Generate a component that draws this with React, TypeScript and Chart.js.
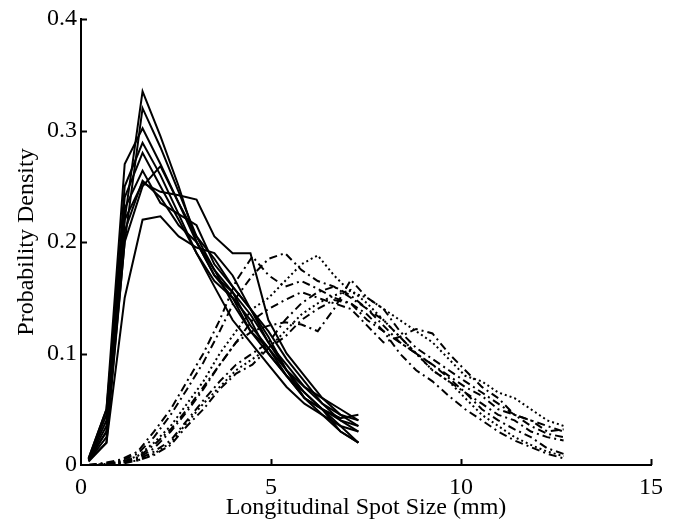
import React, { useEffect, useRef } from "react";
import { Chart, registerables } from "chart.js";

Chart.register(...registerables);

// x positions (mm) of the narrow distributions (solid lines)
const xSolid = [0.2, 0.67, 1.15, 1.62, 2.09, 2.57, 3.04, 3.51, 3.99, 4.46, 4.93, 5.41, 5.88, 6.35, 6.83, 7.3];
const solidA = [0.005, 0.03, 0.22, 0.335, 0.295, 0.25, 0.2, 0.17, 0.15, 0.13, 0.1, 0.08, 0.065, 0.05, 0.035, 0.02];
const solidB = [0.004, 0.02, 0.2, 0.32, 0.285, 0.245, 0.205, 0.175, 0.155, 0.125, 0.105, 0.085, 0.07, 0.055, 0.045, 0.035];
const solidC = [0.006, 0.05, 0.27, 0.302, 0.27, 0.235, 0.2, 0.17, 0.155, 0.135, 0.11, 0.09, 0.07, 0.06, 0.05, 0.04];
const solidD = [0.005, 0.04, 0.25, 0.289, 0.26, 0.225, 0.19, 0.165, 0.15, 0.12, 0.1, 0.08, 0.06, 0.05, 0.03, 0.02];
const solidE = [0.004, 0.025, 0.2, 0.25, 0.268, 0.235, 0.205, 0.185, 0.16, 0.14, 0.12, 0.095, 0.075, 0.055, 0.04, 0.03];
const solidF = [0.005, 0.035, 0.22, 0.253, 0.245, 0.242, 0.238, 0.205, 0.19, 0.19, 0.13, 0.1, 0.08, 0.06, 0.045, 0.04];
const solidG = [0.003, 0.02, 0.15, 0.22, 0.223, 0.205, 0.195, 0.19, 0.17, 0.14, 0.11, 0.085, 0.06, 0.045, 0.03, 0.02];
const solidH = [0.006, 0.05, 0.23, 0.264, 0.235, 0.225, 0.215, 0.18, 0.16, 0.14, 0.115, 0.085, 0.065, 0.05, 0.04, 0.035];
const solidI = [0.005, 0.045, 0.24, 0.28, 0.25, 0.22, 0.19, 0.16, 0.13, 0.11, 0.09, 0.07, 0.055, 0.045, 0.035, 0.03];
const solidJ = [0.004, 0.03, 0.21, 0.255, 0.24, 0.215, 0.2, 0.175, 0.145, 0.12, 0.105, 0.08, 0.06, 0.05, 0.042, 0.045];

// x positions (mm) of the wide distributions (broken lines)
const xDash = [0.2, 0.63, 1.06, 1.49, 1.92, 2.36, 2.79, 3.22, 3.65, 4.08, 4.51, 4.94, 5.37, 5.8, 6.23, 6.66, 7.1, 7.53, 7.96, 8.39, 8.82, 9.25, 9.68, 10.11, 10.55, 10.98, 11.41, 11.84, 12.27, 12.7];
const dash1 = [0.0, 0.001, 0.004, 0.01, 0.025, 0.045, 0.068, 0.092, 0.12, 0.15, 0.17, 0.185, 0.19, 0.175, 0.165, 0.16, 0.15, 0.14, 0.13, 0.115, 0.1, 0.09, 0.08, 0.07, 0.062, 0.05, 0.045, 0.04, 0.035, 0.03];
const dash2 = [0.0, 0.002, 0.005, 0.012, 0.03, 0.05, 0.075, 0.1, 0.13, 0.165, 0.187, 0.17, 0.16, 0.165, 0.158, 0.15, 0.145, 0.13, 0.12, 0.11, 0.1, 0.085, 0.075, 0.065, 0.055, 0.045, 0.04, 0.03, 0.025, 0.022];
const dash3 = [0.0, 0.001, 0.003, 0.008, 0.02, 0.035, 0.055, 0.075, 0.1, 0.12, 0.14, 0.15, 0.165, 0.18, 0.188, 0.17, 0.155, 0.15, 0.14, 0.13, 0.12, 0.11, 0.095, 0.08, 0.075, 0.065, 0.06, 0.05, 0.04, 0.035];
const dash4 = [0.0, 0.001, 0.002, 0.006, 0.015, 0.03, 0.048, 0.068, 0.09, 0.11, 0.12, 0.125, 0.128, 0.126, 0.12, 0.14, 0.166, 0.15, 0.14, 0.12, 0.105, 0.095, 0.085, 0.075, 0.065, 0.055, 0.045, 0.035, 0.028, 0.025];
const dash5 = [0.0, 0.0, 0.002, 0.005, 0.012, 0.022, 0.04, 0.058, 0.075, 0.09, 0.1, 0.11, 0.13, 0.145, 0.155, 0.16, 0.152, 0.14, 0.125, 0.11, 0.1, 0.09, 0.078, 0.065, 0.05, 0.04, 0.032, 0.025, 0.015, 0.01];
const dash6 = [0.0, 0.0, 0.002, 0.004, 0.01, 0.02, 0.038, 0.055, 0.07, 0.085, 0.095, 0.105, 0.12, 0.135, 0.145, 0.152, 0.157, 0.145, 0.13, 0.115, 0.1, 0.085, 0.075, 0.06, 0.045, 0.035, 0.025, 0.018, 0.012, 0.008];
const dash7 = [0.0, 0.001, 0.003, 0.007, 0.018, 0.032, 0.05, 0.07, 0.09, 0.11, 0.13, 0.14, 0.148, 0.155, 0.15, 0.145, 0.14, 0.125, 0.11, 0.115, 0.122, 0.118, 0.1, 0.085, 0.07, 0.06, 0.045, 0.04, 0.03, 0.032];
const dash8 = [0.0, 0.0, 0.001, 0.004, 0.009, 0.018, 0.035, 0.05, 0.068, 0.082, 0.09, 0.105, 0.115, 0.13, 0.14, 0.148, 0.145, 0.135, 0.12, 0.1, 0.085, 0.075, 0.062, 0.05, 0.04, 0.03, 0.022, 0.016, 0.01, 0.006];

const xTicks = [0, 5, 10, 15];
const yTicks = [0, 0.1, 0.2, 0.3, 0.4];
const xTitle = "Longitudinal Spot Size (mm)";
const yTitle = "Probability Density";

const solidSeries = [solidA, solidB, solidC, solidD, solidE, solidF, solidG, solidH, solidI, solidJ];
const dashSeries = [dash1, dash2, dash3, dash4, dash5, dash6, dash7, dash8];
const dashPatterns = [
  [8, 4, 2, 4],
  [8, 4, 2, 4],
  [2, 3],
  [8, 4, 2, 4],
  [8, 4, 2, 4],
  [2, 3],
  [8, 4, 2, 4],
  [8, 4, 2, 4],
];

const FONT = "'Liberation Serif', 'Times New Roman', Times, serif";

const inwardTicks = {
  id: "inwardTicks",
  afterDraw(chart: any) {
    const ctx = chart.ctx;
    const xs = chart.scales.x;
    const ys = chart.scales.y;
    const area = chart.chartArea;
    ctx.save();
    ctx.strokeStyle = "#000";
    ctx.lineWidth = 2;
    ctx.beginPath();
    xTicks.forEach((v) => {
      if (v === 0) return;
      const px = Math.round(xs.getPixelForValue(v)) + 0.5;
      ctx.moveTo(px, area.bottom);
      ctx.lineTo(px, area.bottom - 6);
    });
    yTicks.forEach((v) => {
      if (v === 0) return;
      const py = Math.round(ys.getPixelForValue(v)) + 0.5;
      ctx.moveTo(area.left, py);
      ctx.lineTo(area.left + 6, py);
    });
    ctx.stroke();
    ctx.restore();
  },
};

export default function App() {
  const ref = useRef<HTMLCanvasElement | null>(null);

  useEffect(() => {
    if (!ref.current) return;
    const datasets: any[] = [];
    dashSeries.forEach((s, i) => {
      datasets.push({
        data: s.map((y, k) => ({ x: xDash[k], y })),
        borderColor: "#000",
        borderWidth: 2,
        borderDash: dashPatterns[i],
        pointRadius: 0,
        tension: 0,
        fill: false,
      });
    });
    solidSeries.forEach((s) => {
      datasets.push({
        data: s.map((y, k) => ({ x: xSolid[k], y })),
        borderColor: "#000",
        borderWidth: 2,
        pointRadius: 0,
        tension: 0,
        fill: false,
      });
    });

    const chart = new Chart(ref.current, {
      type: "line",
      data: { datasets },
      plugins: [inwardTicks],
      options: {
        animation: false,
        responsive: false,
        layout: { padding: { left: 0, top: 19, right: 26, bottom: 0 } },
        plugins: { legend: { display: false }, tooltip: { enabled: false } },
        scales: {
          x: {
            type: "linear",
            min: 0,
            max: 15,
            afterFit: (s: any) => {
              s.height = 57;
            },
            afterBuildTicks: (s: any) => {
              s.ticks = xTicks.map((v) => ({ value: v }));
            },
            grid: { display: false, drawTicks: false },
            border: { display: true, color: "#000", width: 2 },
            ticks: {
              color: "#000",
              padding: 8,
              font: { family: FONT, size: 24 },
              maxRotation: 0,
              callback: (v: any) => String(v),
            },
            title: {
              display: true,
              text: xTitle,
              color: "#000",
              font: { family: FONT, size: 24 },
              padding: { top: 0, bottom: 0 },
            },
          },
          y: {
            type: "linear",
            min: 0,
            max: 0.4,
            afterFit: (s: any) => {
              s.width = 81;
            },
            afterBuildTicks: (s: any) => {
              s.ticks = yTicks.map((v) => ({ value: v }));
            },
            grid: { display: false, drawTicks: false },
            border: { display: true, color: "#000", width: 2 },
            ticks: {
              color: "#000",
              padding: 4,
              font: { family: FONT, size: 24 },
              callback: (v: any) => String(Math.round(Number(v) * 10) / 10),
            },
            title: {
              display: true,
              text: yTitle,
              color: "#000",
              font: { family: FONT, size: 24 },
              padding: { top: 12, bottom: 0 },
            },
          },
        },
      },
    });
    return () => chart.destroy();
  }, []);

  return (
    <div style={{ position: "fixed", left: 0, top: 0, width: 677, height: 522, background: "#fff" }}>
      <canvas ref={ref} width={677} height={522} style={{ width: 677, height: 522, display: "block" }} />
    </div>
  );
}
